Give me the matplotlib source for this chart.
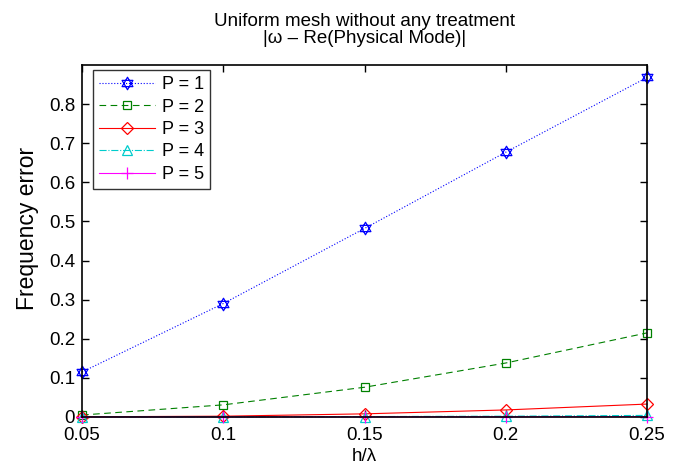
import numpy as np
import matplotlib
matplotlib.use("Agg")
from matplotlib import pyplot as plt
from matplotlib.path import Path

plt.rcParams['font.family'] = ['Liberation Sans', 'DejaVu Sans']

h_lambda = [0.05, 0.1, 0.15, 0.2, 0.25]
err_p1 = [0.115, 0.290, 0.482, 0.677, 0.868]
err_p2 = [0.005, 0.031, 0.076, 0.138, 0.215]
err_p3 = [0.0005, 0.002, 0.008, 0.018, 0.033]
err_p4 = [0.0, 0.0003, 0.001, 0.002, 0.004]
err_p5 = [0.0, 0.0001, 0.0002, 0.0004, 0.001]


def hexagram():
    """Star of David outline as a marker path."""
    tri1 = [(np.cos(a), np.sin(a)) for a in np.deg2rad([90, 210, 330])]
    tri2 = [(np.cos(a), np.sin(a)) for a in np.deg2rad([270, 30, 150])]
    pts = tri1 + [tri1[0]] + tri2 + [tri2[0]]
    codes = [Path.MOVETO, Path.LINETO, Path.LINETO, Path.CLOSEPOLY] * 2
    return Path(pts, codes)


fig = plt.figure(figsize=(6.8, 4.66), dpi=100)
ax = fig.add_axes([0.1206, 0.1052, 0.8309, 0.7554])

series = [
    (err_p1, 'P = 1', dict(color='blue', linestyle=':', marker=hexagram(), markersize=9)),
    (err_p2, 'P = 2', dict(color=(0, 0.5, 0), linestyle=(0, (6, 4)), marker='s', markersize=6)),
    (err_p3, 'P = 3', dict(color='red', linestyle='-', marker='D', markersize=6)),
    (err_p4, 'P = 4', dict(color=(0, 0.8, 0.8), linestyle='-.', marker='^', markersize=7)),
    (err_p5, 'P = 5', dict(color='magenta', linestyle='-', marker='+', markersize=8)),
]
for vals, lab, style in series:
    ax.plot(h_lambda, vals, label=lab, linewidth=0.8, markerfacecolor='none',
            markeredgewidth=0.9, clip_on=False, **style)

ax.set_xlim(0.05, 0.25)
ax.set_ylim(0, 0.9)
ax.set_xticks([0.05, 0.1, 0.15, 0.2, 0.25])
ax.set_xticklabels(['0.05', '0.1', '0.15', '0.2', '0.25'])
ax.set_yticks(np.arange(0, 0.81, 0.1))
ax.set_yticklabels(['0', '0.1', '0.2', '0.3', '0.4', '0.5', '0.6', '0.7', '0.8'])
ax.tick_params(direction='in', top=True, right=True, labelsize=13.5, length=5, width=1)
ax.tick_params(axis='x', pad=7)
ax.tick_params(axis='y', pad=5)
for sp in ax.spines.values():
    sp.set_linewidth(1.2)

ax.set_xlabel('h/\u03bb', fontsize=13.5, labelpad=3)
ax.set_ylabel('Frequency error', fontsize=16.5)
ax.yaxis.set_label_coords(-0.076, 0.537)
ax.set_title('Uniform mesh without any treatment\n|\u03c9 \u2013 Re(Physical Mode)|',
             fontsize=13.5, pad=16, linespacing=0.95)

leg = ax.legend(loc='upper left', bbox_to_anchor=(0.0195, 0.986), fontsize=13,
                frameon=True, fancybox=False, edgecolor='black', borderpad=0.35,
                labelspacing=0.3, handlelength=3.1, handletextpad=0.35,
                borderaxespad=0)
leg.get_frame().set_linewidth(1.0)

fig.savefig('out.png', dpi=100)
